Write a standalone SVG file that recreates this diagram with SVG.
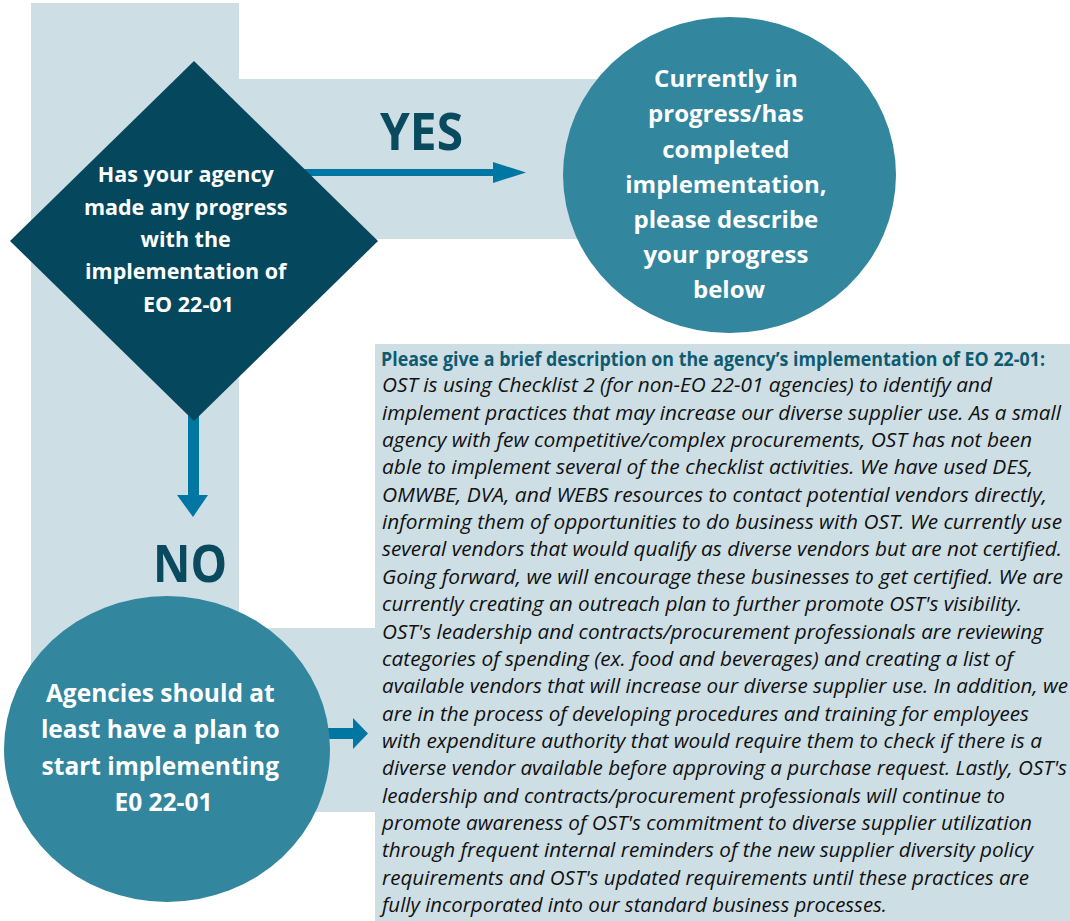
<svg xmlns="http://www.w3.org/2000/svg" width="1070" height="921" viewBox="0 0 1070 921">
<style>
.band{fill:#cddee5}
.node-text{font-family:"Open Sans","Noto Sans",sans-serif;font-weight:bold;fill:#ffffff;text-anchor:middle}
.label{font-family:"Open Sans","Noto Sans",sans-serif;font-weight:bold;fill:#0a4a5e;font-size:52px}
.arrow{fill:#0077a3}
.body{font-family:"Open Sans","Noto Sans",sans-serif;font-style:italic;font-size:20px;fill:#111111}
.head{font-family:"Open Sans","Noto Sans",sans-serif;font-weight:bold;font-size:19.5px;fill:#0e5a70}
</style>
<rect width="1070" height="921" fill="#ffffff"/>
<g id="background">
<rect class="band" x="31" y="3" width="208" height="760"/>
<rect class="band" x="200" y="79" width="460" height="160"/>
<rect class="band" x="200" y="628" width="200" height="184"/>
</g>
<g id="connectors">
<rect class="arrow" x="300" y="169" width="194" height="7"/>
<polygon class="arrow" points="493,162 526,172.5 493,183"/>
<rect class="arrow" x="188" y="400" width="11" height="96"/>
<polygon class="arrow" points="177,495 208,495 193,517"/>
<rect class="arrow" x="300" y="728" width="54" height="11"/>
<polygon class="arrow" points="353,718 368,733.5 353,749"/>
</g>
<g id="labels">
<text class="label" x="380" y="150" textLength="83" lengthAdjust="spacingAndGlyphs">YES</text>
<text class="label" x="153" y="582" textLength="74" lengthAdjust="spacingAndGlyphs">NO</text>
</g>
<g id="decision">
<polygon points="194,61 378,241 194,421 10,241" fill="#05475c"/>
<text class="node-text" font-size="21.5">
<tspan x="188.5" y="182">Has your agency</tspan>
<tspan x="188.5" y="215">made any progress</tspan>
<tspan x="188.5" y="247">with the</tspan>
<tspan x="188.5" y="279">implementation of</tspan>
<tspan x="188.5" y="312">EO 22-01</tspan>
</text>
</g>
<g id="yes-node">
<ellipse cx="729.5" cy="175" rx="166.5" ry="158" fill="#32869e"/>
<text class="node-text" font-size="24">
<tspan x="729" y="87">Currently in</tspan>
<tspan x="729" y="122">progress/has</tspan>
<tspan x="729" y="158">completed</tspan>
<tspan x="729" y="193">implementation,</tspan>
<tspan x="729" y="228">please describe</tspan>
<tspan x="729" y="263">your progress</tspan>
<tspan x="729" y="298">below</tspan>
</text>
</g>
<g id="no-node">
<ellipse cx="167" cy="749" rx="163" ry="153" fill="#32869e"/>
<text class="node-text" font-size="24.5">
<tspan x="163.5" y="702">Agencies should at</tspan>
<tspan x="163.5" y="738">least have a plan to</tspan>
<tspan x="163.5" y="775">start implementing</tspan>
<tspan x="163.5" y="811">E0 22-01</tspan>
</text>
</g>
<g id="description">
<rect class="band" x="375" y="344" width="695" height="577"/>
<text class="head" x="381" y="366" textLength="664" lengthAdjust="spacingAndGlyphs">Please give a brief description on the agency’s implementation of EO 22-01:</text>
<text class="body" x="382" y="392.35" textLength="610" lengthAdjust="spacingAndGlyphs">OST is using Checklist 2 (for non-EO 22-01 agencies) to identify and</text>
<text class="body" x="382" y="419.7" textLength="679" lengthAdjust="spacingAndGlyphs">implement practices that may increase our diverse supplier use. As a small</text>
<text class="body" x="382" y="447.05" textLength="650" lengthAdjust="spacingAndGlyphs">agency with few competitive/complex procurements, OST has not been</text>
<text class="body" x="382" y="474.4" textLength="651" lengthAdjust="spacingAndGlyphs">able to implement several of the checklist activities. We have used DES,</text>
<text class="body" x="382" y="501.75" textLength="665" lengthAdjust="spacingAndGlyphs">OMWBE, DVA, and WEBS resources to contact potential vendors directly,</text>
<text class="body" x="382" y="529.1" textLength="680" lengthAdjust="spacingAndGlyphs">informing them of opportunities to do business with OST. We currently use</text>
<text class="body" x="382" y="556.45" textLength="680" lengthAdjust="spacingAndGlyphs">several vendors that would qualify as diverse vendors but are not certified.</text>
<text class="body" x="382" y="583.8" textLength="681" lengthAdjust="spacingAndGlyphs">Going forward, we will encourage these businesses to get certified. We are</text>
<text class="body" x="382" y="611.15" textLength="640" lengthAdjust="spacingAndGlyphs">currently creating an outreach plan to further promote OST's visibility.</text>
<text class="body" x="382" y="638.5" textLength="661" lengthAdjust="spacingAndGlyphs">OST's leadership and contracts/procurement professionals are reviewing</text>
<text class="body" x="382" y="665.85" textLength="631" lengthAdjust="spacingAndGlyphs">categories of spending (ex. food and beverages) and creating a list of</text>
<text class="body" x="382" y="693.2" textLength="686" lengthAdjust="spacingAndGlyphs">available vendors that will increase our diverse supplier use. In addition, we</text>
<text class="body" x="382" y="720.55" textLength="647" lengthAdjust="spacingAndGlyphs">are in the process of developing procedures and training for employees</text>
<text class="body" x="382" y="747.9" textLength="660" lengthAdjust="spacingAndGlyphs">with expenditure authority that would require them to check if there is a</text>
<text class="body" x="382" y="775.25" textLength="685" lengthAdjust="spacingAndGlyphs">diverse vendor available before approving a purchase request. Lastly, OST's</text>
<text class="body" x="382" y="802.6" textLength="623" lengthAdjust="spacingAndGlyphs">leadership and contracts/procurement professionals will continue to</text>
<text class="body" x="382" y="829.95" textLength="650" lengthAdjust="spacingAndGlyphs">promote awareness of OST's commitment to diverse supplier utilization</text>
<text class="body" x="382" y="857.3" textLength="651" lengthAdjust="spacingAndGlyphs">through frequent internal reminders of the new supplier diversity policy</text>
<text class="body" x="382" y="884.65" textLength="647" lengthAdjust="spacingAndGlyphs">requirements and OST's updated requirements until these practices are</text>
<text class="body" x="382" y="912" textLength="505" lengthAdjust="spacingAndGlyphs">fully incorporated into our standard business processes.</text>
</g>
</svg>
